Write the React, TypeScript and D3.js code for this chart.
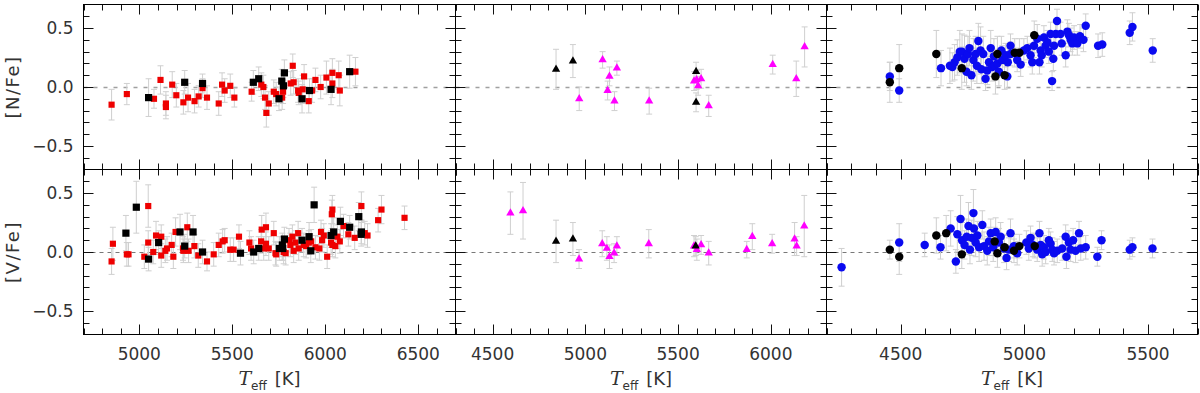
import React, {useRef, useEffect} from "react";
import * as d3 from "d3";

const W = 1200;
const H = 393;

// each point: [Teff, abundance, error]
const redN = [
    [4851,-0.15,0.13],[4933,-0.06,0.09],[5079,-0.10,0.08],[5114,0.06,0.12],[5143,-0.14,0.1],[5143,-0.17,0.1],
    [5177,0.02,0.11],[5199,-0.07,0.1],[5237,-0.13,0.1],[5262,-0.09,0.12],[5297,-0.12,0.1],[5319,-0.08,0.09],
    [5340,-0.01,0.08],[5364,-0.09,0.1],[5427,-0.14,0.1],[5445,0.02,0.1],[5459,-0.03,0.1],[5489,0.01,0.1],
    [5511,-0.09,0.08],[5604,-0.04,0.08],[5656,0.02,0.1],[5667,0.0,0.1],[5676,-0.09,0.1],[5683,-0.22,0.12],
    [5696,-0.14,0.1],[5723,-0.04,0.1],[5736,-0.06,0.1],[5768,-0.09,0.1],[5773,-0.04,0.1],[5814,0.03,0.1],
    [5825,0.18,0.1],[5830,0.04,0.1],[5854,-0.03,0.1],[5857,-0.05,0.1],[5878,-0.02,0.12],[5886,0.09,0.1],
    [5911,-0.12,0.1],[5929,-0.03,0.1],[5947,0.06,0.1],[5975,0.0,0.1],[6006,0.08,0.14],[6038,0.12,0.12],
    [6038,0.03,0.12],[6072,0.10,0.12],[6078,-0.03,0.13],[6162,0.13,0.12]
];
const blackSqN = [
    [5050,-0.09,0.16],[5244,0.04,0.1],[5340,0.03,0.08],[5613,0.04,0.1],[5642,0.07,0.1],[5751,-0.10,0.1],
    [5766,0.05,0.1],[5775,0.01,0.1],[5780,0.12,0.11],[5875,-0.10,0.12],[5915,-0.03,0.1],[6031,-0.02,0.13],
    [6131,0.13,0.14]
];
const redV = [
    [4851,-0.08,0.11],[4858,0.07,0.14],[4933,-0.02,0.1],[4942,-0.02,0.1],[5027,-0.04,0.1],[5048,0.08,0.1],
    [5048,0.39,0.18],[5075,0.0,0.1],[5090,0.14,0.12],[5118,-0.03,0.1],[5118,0.13,0.1],[5140,0.01,0.1],
    [5149,0.03,0.1],[5174,0.06,0.1],[5183,-0.04,0.1],[5195,0.17,0.12],[5235,0.03,0.1],[5237,0.01,0.1],
    [5258,0.21,0.12],[5265,0.01,0.1],[5296,0.05,0.1],[5317,-0.03,0.1],[5364,-0.08,0.08],[5400,-0.02,0.1],
    [5427,0.06,0.1],[5448,0.09,0.1],[5459,0.10,0.1],[5489,0.02,0.1],[5507,0.02,0.1],[5536,0.13,0.1],
    [5592,0.08,0.1],[5601,0.03,0.1],[5655,0.09,0.1],[5658,0.19,0.12],[5669,0.03,0.1],[5681,0.21,0.12],
    [5681,0.07,0.1],[5696,0.03,0.1],[5723,0.16,0.1],[5732,-0.01,0.1],[5736,-0.02,0.1],[5768,0.03,0.1],
    [5776,0.0,0.1],[5787,-0.01,0.1],[5805,0.10,0.1],[5812,0.06,0.1],[5823,0.13,0.1],[5830,0.01,0.1],
    [5839,0.08,0.1],[5854,0.16,0.1],[5857,0.03,0.1],[5884,0.06,0.1],[5897,0.05,0.1],[5911,0.08,0.1],
    [5924,0.09,0.1],[5947,0.04,0.1],[5968,0.03,0.1],[5977,0.17,0.1],[5983,0.10,0.1],[5992,0.14,0.1],
    [6010,-0.04,0.1],[6031,0.08,0.1],[6035,0.32,0.12],[6038,0.36,0.12],[6038,0.06,0.1],[6054,0.05,0.1],
    [6065,0.13,0.1],[6078,0.09,0.1],[6098,0.22,0.1],[6124,0.15,0.1],[6158,0.12,0.1],[6194,0.39,0.12],
    [6212,0.16,0.1],[6227,0.14,0.1],[6284,0.27,0.1],[6302,0.36,0.12],[6426,0.29,0.1]
];
const blackSqV = [
    [4928,0.16,0.15],[4984,0.38,0.22],[5050,-0.06,0.1],[5104,0.08,0.1],[5219,0.17,0.15],[5244,0.05,0.1],
    [5289,0.17,0.14],[5340,0.0,0.1],[5544,-0.01,0.1],[5615,0.0,0.1],[5642,0.03,0.1],[5753,0.03,0.1],
    [5769,0.06,0.1],[5771,0.03,0.1],[5780,0.11,0.1],[5875,0.10,0.1],[5913,0.13,0.12],[5922,0.01,0.1],
    [5940,0.40,0.15],[6031,0.14,0.1],[6045,0.17,0.12],[6081,0.26,0.12],[6131,0.21,0.1],[6180,0.30,0.12],
    [6193,0.15,0.1],[6194,0.17,0.1]
];

const magentaN = [
    [4967,-0.10,0.1],[5093,0.23,0.07],[5130,0.09,0.08],[5120,-0.03,0.08],[5170,0.16,0.06],[5157,-0.12,0.08],
    [5344,-0.12,0.11],[5586,0.05,0.08],[5600,0.06,0.08],[5608,0.01,0.08],[5624,0.07,0.08],[5665,-0.16,0.09],
    [6010,0.19,0.08],[6137,0.07,0.15],[6182,0.34,0.17]
];
const blackTriN = [
    [4842,0.15,0.17],[4933,0.22,0.14],[5597,0.13,0.08],[5597,-0.13,0.08]
];
const magentaV = [
    [4596,0.33,0.18],[4664,0.35,0.24],[4966,-0.06,0.08],[5091,0.07,0.11],[5116,0.03,0.1],[5130,-0.04,0.1],
    [5155,-0.01,0.08],[5170,0.05,0.08],[5342,0.07,0.12],[5586,0.05,0.09],[5601,0.02,0.09],[5624,0.06,0.08],
    [5665,-0.01,0.1],[5870,0.02,0.07],[5900,0.13,0.11],[6007,0.07,0.08],[6128,0.11,0.14],[6139,0.05,0.08],
    [6180,0.22,0.26]
];
const blackTriV = [
    [4842,0.09,0.18],[4933,0.11,0.14],[5595,0.05,0.08]
];

const blueN = [
    [4456,0.09,0.12],[4494,-0.03,0.1],[4663,0.16,0.15],[4699,0.18,0.15],[4709,0.17,0.12],[4718,0.21,0.15],
    [4729,0.25,0.15],[4739,0.30,0.18],[4748,0.30,0.15],[4758,0.24,0.2],[4766,0.13,0.12],[4772,0.28,0.15],
    [4778,0.33,0.15],[4786,0.10,0.12],[4794,0.23,0.18],[4803,0.28,0.15],[4808,0.18,0.15],[4814,0.39,0.15],
    [4823,0.31,0.2],[4826,0.15,0.12],[4834,0.28,0.15],[4843,0.07,0.1],[4850,0.14,0.12],[4857,0.21,0.12],
    [4864,0.33,0.15],[4870,0.17,0.12],[4877,0.26,0.15],[4880,0.18,0.12],[4891,0.20,0.12],[4897,0.13,0.12],
    [4907,0.31,0.12],[4911,0.23,0.12],[4924,0.27,0.1],[4931,0.09,0.1],[4933,0.21,0.12],[4944,0.35,0.1],
    [4944,0.28,0.1],[4971,0.23,0.1],[4985,0.19,0.1],[4998,0.31,0.1],[5012,0.33,0.1],[5025,0.27,0.1],
    [5032,0.21,0.1],[5039,0.35,0.1],[5052,0.41,0.12],[5061,0.21,0.1],[5066,0.31,0.1],[5070,0.27,0.1],
    [5079,0.42,0.1],[5086,0.35,0.1],[5093,0.38,0.1],[5099,0.30,0.1],[5106,0.45,0.1],[5112,0.05,0.08],
    [5117,0.24,0.1],[5120,0.35,0.1],[5127,0.45,0.1],[5132,0.56,0.1],[5146,0.45,0.1],[5151,0.37,0.1],
    [5167,0.27,0.1],[5174,0.47,0.1],[5180,0.44,0.1],[5187,0.40,0.1],[5194,0.37,0.1],[5201,0.42,0.1],
    [5214,0.37,0.1],[5225,0.43,0.1],[5239,0.40,0.1],[5248,0.52,0.1],[5298,0.35,0.1],[5315,0.36,0.1],
    [5426,0.46,0.1],[5437,0.51,0.12],[5519,0.31,0.1]
];
const blackCircN = [
    [4456,0.04,0.17],[4494,0.16,0.2],[4644,0.28,0.2],[4747,0.16,0.18],[4883,0.09,0.15],[4891,0.28,0.15],
    [4920,0.10,0.12],[4961,0.29,0.12],[4980,0.29,0.12],[5040,0.44,0.12]
];
const blueV = [
    [4261,-0.13,0.16],[4494,0.08,0.16],[4597,0.06,0.1],[4661,0.04,0.1],[4702,0.20,0.15],[4723,-0.08,0.1],
    [4729,0.15,0.15],[4742,0.28,0.2],[4748,0.10,0.15],[4758,0.06,0.12],[4767,0.13,0.15],[4774,0.22,0.2],
    [4780,0.02,0.12],[4787,0.12,0.15],[4794,0.33,0.2],[4796,0.20,0.15],[4803,0.08,0.12],[4810,0.14,0.12],
    [4817,0.04,0.12],[4830,0.23,0.12],[4837,0.05,0.12],[4850,0.01,0.12],[4857,0.09,0.12],[4864,0.16,0.12],
    [4874,0.04,0.12],[4884,0.17,0.12],[4897,0.08,0.12],[4904,0.13,0.12],[4918,0.03,0.12],[4928,-0.05,0.1],
    [4938,0.02,0.1],[4944,0.16,0.12],[4958,0.05,0.1],[4971,-0.01,0.1],[5008,0.08,0.1],[5018,0.03,0.1],
    [5025,0.12,0.1],[5035,0.06,0.1],[5052,0.02,0.1],[5061,0.16,0.1],[5066,0.06,0.1],[5072,-0.02,0.1],
    [5079,0.04,0.1],[5086,0.0,0.1],[5099,0.10,0.1],[5106,0.07,0.1],[5113,0.02,0.1],[5120,-0.01,0.1],
    [5133,0.01,0.1],[5153,0.03,0.1],[5167,0.13,0.1],[5170,-0.04,0.1],[5180,0.08,0.1],[5187,0.02,0.1],
    [5197,0.10,0.1],[5207,0.01,0.1],[5221,0.16,0.1],[5228,0.03,0.1],[5248,0.04,0.1],[5295,-0.04,0.08],
    [5312,0.10,0.08],[5426,0.02,0.08],[5437,0.04,0.08],[5518,0.03,0.08]
];
const blackCircV = [
    [4456,0.02,0.08],[4494,-0.04,0.15],[4644,0.14,0.15],[4684,0.16,0.15],[4747,-0.02,0.12],[4880,0.09,0.12],
    [4891,-0.01,0.12],[4920,0.04,0.1],[4958,0.01,0.1],[4980,0.05,0.1],[5042,0.05,0.1]
];

const xDomains = [[4700, 6700], [4300, 6300], [4200, 5700]];
const xTickLabels = [[5000, 5500, 6000, 6500], [4500, 5000, 5500, 6000], [4500, 5000, 5500]];
const yTickLabels = [-0.5, 0.0, 0.5];
const rowLabels = ["[N/Fe]", "[V/Fe]"];

const colEdges = [83.5, 455.5, 826.5, 1197.5];
const rowEdges = [4.5, 169.5, 334.5];

const panels = [
    {row: 0, col: 0, sets: [{d: redN, c: "#ee0000", s: "sq", a: 38}, {d: blackSqN, c: "#000", s: "sq", a: 52}]},
    {row: 0, col: 1, sets: [{d: magentaN, c: "#ff00ff", s: "tri", a: 30}, {d: blackTriN, c: "#000", s: "tri", a: 30}]},
    {row: 0, col: 2, sets: [{d: blueN, c: "#0a0af0", s: "circ", a: 56}, {d: blackCircN, c: "#000", s: "circ", a: 56}]},
    {row: 1, col: 0, sets: [{d: redV, c: "#ee0000", s: "sq", a: 38}, {d: blackSqV, c: "#000", s: "sq", a: 52}]},
    {row: 1, col: 1, sets: [{d: magentaV, c: "#ff00ff", s: "tri", a: 30}, {d: blackTriV, c: "#000", s: "tri", a: 30}]},
    {row: 1, col: 2, sets: [{d: blueV, c: "#0a0af0", s: "circ", a: 56}, {d: blackCircV, c: "#000", s: "circ", a: 56}]},
];

const FONT = "'DejaVu Sans', sans-serif";

function App() {
    const ref = useRef(null);

    useEffect(() => {
        const svg = d3.select(ref.current);
        svg.selectAll("*").remove();

        const shapes = {sq: d3.symbolSquare, tri: d3.symbolTriangle, circ: d3.symbolCircle};

        panels.forEach(p => {
            const x0 = colEdges[p.col], x1 = colEdges[p.col + 1];
            const y0 = rowEdges[p.row], y1 = rowEdges[p.row + 1];
            const x = d3.scaleLinear().domain(xDomains[p.col]).range([x0, x1]);
            const y = d3.scaleLinear().domain([-0.7, 0.7]).range([y1, y0]);
            const g = svg.append("g");

            // zero line
            g.append("line")
                .attr("x1", x0).attr("x2", x1)
                .attr("y1", Math.round(y(0)) + 0.5).attr("y2", Math.round(y(0)) + 0.5)
                .attr("stroke", p.row === 0 ? "#a0a0a0" : "#555")
                .attr("stroke-width", p.row === 0 ? 1.4 : 0.8)
                .attr("stroke-dasharray", p.row === 0 ? "4,6" : "4,4");

            // error bars
            p.sets.forEach(s => {
                const eb = g.append("g").attr("stroke", "#cfcfcf").attr("stroke-width", 1).attr("fill", "none");
                s.d.forEach(([t, v, e]) => {
                    const cx = x(t);
                    eb.append("line").attr("x1", cx).attr("x2", cx).attr("y1", y(v - e)).attr("y2", y(v + e));
                    eb.append("line").attr("x1", cx - 3).attr("x2", cx + 3).attr("y1", y(v - e)).attr("y2", y(v - e));
                    eb.append("line").attr("x1", cx - 3).attr("x2", cx + 3).attr("y1", y(v + e)).attr("y2", y(v + e));
                });
            });

            // markers
            p.sets.forEach(s => {
                const sym = d3.symbol().type(shapes[s.s]).size(s.a);
                g.append("g").selectAll("path")
                    .data(s.d)
                    .enter()
                    .append("path")
                    .attr("d", sym)
                    .attr("transform", d => `translate(${x(d[0])},${y(d[1])})`)
                    .attr("fill", s.c);
            });

            // ticks
            const tk = g.append("g").attr("stroke", "#111").attr("stroke-width", 1);
            const xd = xDomains[p.col];
            d3.range(Math.ceil(xd[0] / 100) * 100, xd[1] + 1, 100).forEach(t => {
                const major = t % 500 === 0;
                const len = major ? 10 : 6;
                const px = Math.round(x(t)) + 0.5;
                tk.append("line").attr("x1", px).attr("x2", px).attr("y1", y0).attr("y2", y0 + len);
                tk.append("line").attr("x1", px).attr("x2", px).attr("y1", y1).attr("y2", y1 - len);
            });
            d3.range(-6, 7).forEach(i => {
                const v = i / 10;
                const major = i % 5 === 0;
                const len = major ? 10 : 6;
                const py = Math.round(y(v)) + 0.5;
                tk.append("line").attr("x1", x0).attr("x2", x0 + len).attr("y1", py).attr("y2", py);
                tk.append("line").attr("x1", x1).attr("x2", x1 - len).attr("y1", py).attr("y2", py);
            });

            // frame
            g.append("rect")
                .attr("x", x0).attr("y", y0)
                .attr("width", x1 - x0).attr("height", y1 - y0)
                .attr("fill", "none").attr("stroke", "#000").attr("stroke-width", 1);

            // y labels
            if (p.col === 0) {
                yTickLabels.forEach(v => {
                    g.append("text")
                        .attr("x", x0 - 10).attr("y", y(v))
                        .attr("dy", "0.36em")
                        .attr("text-anchor", "end")
                        .attr("font-family", FONT).attr("font-size", 17)
                        .attr("fill", "#333")
                        .text(v === 0 ? "0.0" : (v < 0 ? "\u2212" : "") + Math.abs(v).toFixed(1));
                });
                g.append("text")
                    .attr("transform", `translate(19,${(y0 + y1) / 2}) rotate(-90)`)
                    .attr("text-anchor", "middle")
                    .attr("font-family", FONT).attr("font-size", 18)
                    .attr("letter-spacing", 1.5)
                    .attr("fill", "#333")
                    .text(rowLabels[p.row]);
            }

            // x labels
            if (p.row === 1) {
                xTickLabels[p.col].forEach(t => {
                    g.append("text")
                        .attr("x", x(t)).attr("y", 360)
                        .attr("text-anchor", "middle")
                        .attr("font-family", FONT).attr("font-size", 17)
                        .attr("fill", "#333")
                        .text(t);
                });
                const lab = g.append("text")
                    .attr("x", (x0 + x1) / 2).attr("y", 385)
                    .attr("text-anchor", "middle")
                    .attr("font-family", FONT).attr("font-size", 18)
                    .attr("fill", "#333");
                lab.append("tspan").attr("font-style", "italic").attr("font-family", "'DejaVu Serif', serif").attr("font-size", 19).text("T");
                lab.append("tspan").attr("dy", 5).attr("font-size", 12).text("eff");
                lab.append("tspan").attr("dy", -5).attr("dx", 8).text("[K]");
            }
        });
    }, []);

    return (
        <svg ref={ref} width={W} height={H}
             style={{position: "absolute", left: 0, top: 0, display: "block", background: "#fff"}} />
    );
}

export default App;
